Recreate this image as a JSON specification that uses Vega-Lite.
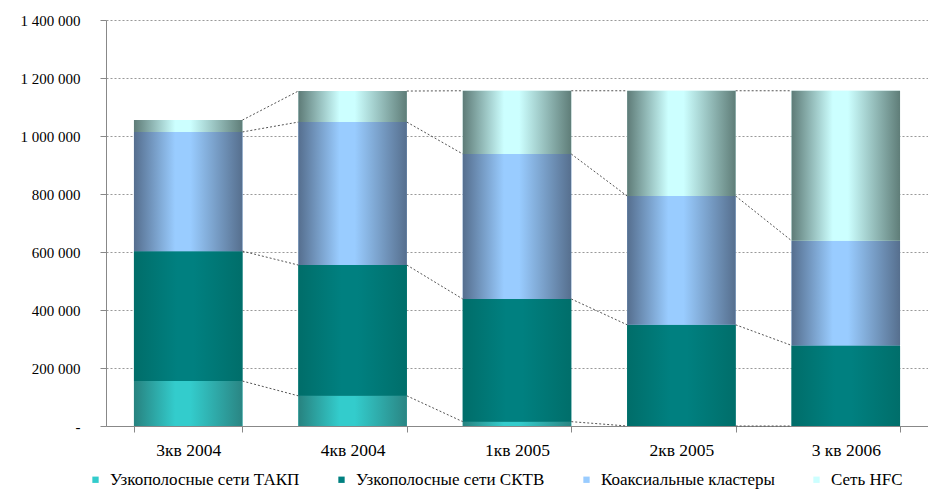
{
  "$schema": "https://vega.github.io/schema/vega-lite/v6.json",
  "width": 822,
  "height": 406,
  "autosize": "none",
  "padding": {"left": 106, "top": 20, "right": 0, "bottom": 72},
  "background": "white",
  "config": {
    "locale": {"number": {"decimal": ",", "thousands": " ", "grouping": [3], "currency": ["", ""]}},
    "view": {"stroke": null},
    "font": "Liberation Serif"
  },
  "data": {
    "values": [
      {"quarter": "3кв 2004", "qi": 1, "series": "Узкополосные сети ТАКП", "ord": 1, "value": 155000},
      {"quarter": "3кв 2004", "qi": 1, "series": "Узкополосные сети СКТВ", "ord": 2, "value": 448000},
      {"quarter": "3кв 2004", "qi": 1, "series": "Коаксиальные кластеры", "ord": 3, "value": 411000},
      {"quarter": "3кв 2004", "qi": 1, "series": "Сеть HFC", "ord": 4, "value": 41000},
      {"quarter": "4кв 2004", "qi": 2, "series": "Узкополосные сети ТАКП", "ord": 1, "value": 104000},
      {"quarter": "4кв 2004", "qi": 2, "series": "Узкополосные сети СКТВ", "ord": 2, "value": 451000},
      {"quarter": "4кв 2004", "qi": 2, "series": "Коаксиальные кластеры", "ord": 3, "value": 493000},
      {"quarter": "4кв 2004", "qi": 2, "series": "Сеть HFC", "ord": 4, "value": 107000},
      {"quarter": "1кв 2005", "qi": 3, "series": "Узкополосные сети ТАКП", "ord": 1, "value": 15000},
      {"quarter": "1кв 2005", "qi": 3, "series": "Узкополосные сети СКТВ", "ord": 2, "value": 423000},
      {"quarter": "1кв 2005", "qi": 3, "series": "Коаксиальные кластеры", "ord": 3, "value": 500000},
      {"quarter": "1кв 2005", "qi": 3, "series": "Сеть HFC", "ord": 4, "value": 218000},
      {"quarter": "2кв 2005", "qi": 4, "series": "Узкополосные сети ТАКП", "ord": 1, "value": 0},
      {"quarter": "2кв 2005", "qi": 4, "series": "Узкополосные сети СКТВ", "ord": 2, "value": 349000},
      {"quarter": "2кв 2005", "qi": 4, "series": "Коаксиальные кластеры", "ord": 3, "value": 444000},
      {"quarter": "2кв 2005", "qi": 4, "series": "Сеть HFC", "ord": 4, "value": 363000},
      {"quarter": "3 кв 2006", "qi": 5, "series": "Узкополосные сети ТАКП", "ord": 1, "value": 0},
      {"quarter": "3 кв 2006", "qi": 5, "series": "Узкополосные сети СКТВ", "ord": 2, "value": 278000},
      {"quarter": "3 кв 2006", "qi": 5, "series": "Коаксиальные кластеры", "ord": 3, "value": 361000},
      {"quarter": "3 кв 2006", "qi": 5, "series": "Сеть HFC", "ord": 4, "value": 517000}
    ]
  },
  "transform": [
    {"stack": "value", "groupby": ["quarter"], "sort": [{"field": "ord", "order": "ascending"}], "as": ["y0", "y1"]}
  ],
  "encoding": {
    "x": {
      "field": "quarter", "type": "nominal",
      "sort": ["3кв 2004", "4кв 2004", "1кв 2005", "2кв 2005", "3 кв 2006"],
      "scale": {"paddingInner": 0.34, "paddingOuter": 0.17},
      "axis": {
        "title": null, "labelAngle": 0, "labelFontSize": 17.5, "labelColor": "#000",
        "labelPadding": 9,
        "tickBand": "extent", "tickSize": 6, "tickColor": "#888", "domainColor": "#888",
        "grid": false
      }
    }
  },
  "layer": [
    {
      "mark": {"type": "bar"},
      "encoding": {
        "y": {
          "field": "y0", "type": "quantitative",
          "scale": {"domain": [0, 1400000], "nice": false},
          "axis": {
            "title": null, "values": [0, 200000, 400000, 600000, 800000, 1000000, 1200000, 1400000],
            "format": ",d", "labelExpr": "datum.value === 0 ? '-' : datum.label",
            "labelFontSize": 15, "labelColor": "#000",
            "labelPadding": 20, "tickSize": 6, "tickColor": "#888", "domainColor": "#888",
            "grid": true, "gridDash": [2, 2], "gridColor": "#999", "gridWidth": 1
          }
        },
        "y2": {"field": "y1"},
        "color": {
          "field": "series", "type": "nominal",
          "scale": {
            "domain": ["Узкополосные сети ТАКП", "Узкополосные сети СКТВ", "Коаксиальные кластеры", "Сеть HFC"],
            "range": ["#33cccc", "#008080", "#99ccff", "#ccffff"]
          },
          "legend": {
            "title": null, "orient": "none", "direction": "horizontal",
            "legendX": -19, "legendY": 451,
            "symbolType": "square", "symbolSize": 40, "symbolStrokeWidth": 0,
            "labelFontSize": 17, "labelColor": "#000",
            "columnPadding": 33, "labelOffset": 6, "labelLimit": 400
          }
        }
      }
    },
    {
      "transform": [{"filter": "datum.ord === 1"}],
      "mark": {"type": "bar", "fill": {"gradient": "linear", "x1": 0, "x2": 1, "y1": 0, "y2": 0,
        "stops": [{"offset": 0, "color": "#27827f"}, {"offset": 0.38, "color": "#33cccc"}, {"offset": 0.52, "color": "#33cccc"}, {"offset": 1, "color": "#2a8583"}]}},
      "encoding": {"y": {"field": "y0", "type": "quantitative"}, "y2": {"field": "y1"}}
    },
    {
      "transform": [{"filter": "datum.ord === 2"}],
      "mark": {"type": "bar", "fill": {"gradient": "linear", "x1": 0, "x2": 1, "y1": 0, "y2": 0,
        "stops": [{"offset": 0, "color": "#006d69"}, {"offset": 0.4, "color": "#008080"}, {"offset": 0.55, "color": "#008080"}, {"offset": 1, "color": "#006e6a"}]}},
      "encoding": {"y": {"field": "y0", "type": "quantitative"}, "y2": {"field": "y1"}}
    },
    {
      "transform": [{"filter": "datum.ord === 3"}],
      "mark": {"type": "bar", "fill": {"gradient": "linear", "x1": 0, "x2": 1, "y1": 0, "y2": 0,
        "stops": [{"offset": 0, "color": "#556e8e"}, {"offset": 0.38, "color": "#99ccff"}, {"offset": 0.52, "color": "#99ccff"}, {"offset": 1, "color": "#566f8e"}]}},
      "encoding": {"y": {"field": "y0", "type": "quantitative"}, "y2": {"field": "y1"}}
    },
    {
      "transform": [{"filter": "datum.ord === 4"}],
      "mark": {"type": "bar", "fill": {"gradient": "linear", "x1": 0, "x2": 1, "y1": 0, "y2": 0,
        "stops": [{"offset": 0, "color": "#5e7b77"}, {"offset": 0.38, "color": "#ccffff"}, {"offset": 0.52, "color": "#ccffff"}, {"offset": 1, "color": "#5f7d78"}]}},
      "encoding": {"y": {"field": "y0", "type": "quantitative"}, "y2": {"field": "y1"}}
    },
    {
      "transform": [
        {"window": [{"op": "lead", "field": "y1", "as": "ny1"}, {"op": "lead", "field": "quarter", "as": "nq"}],
         "groupby": ["series"], "sort": [{"field": "qi", "order": "ascending"}], "frame": [null, null]},
        {"filter": "datum.nq != null"}
      ],
      "mark": {"type": "rule", "color": "#555", "strokeWidth": 1, "strokeDash": [2, 2]},
      "encoding": {
        "x": {"field": "quarter", "type": "nominal", "bandPosition": 1,
              "sort": ["3кв 2004", "4кв 2004", "1кв 2005", "2кв 2005", "3 кв 2006"]},
        "x2": {"field": "nq", "bandPosition": 0},
        "y": {"field": "y1", "type": "quantitative"},
        "y2": {"field": "ny1"}
      }
    }
  ]
}
